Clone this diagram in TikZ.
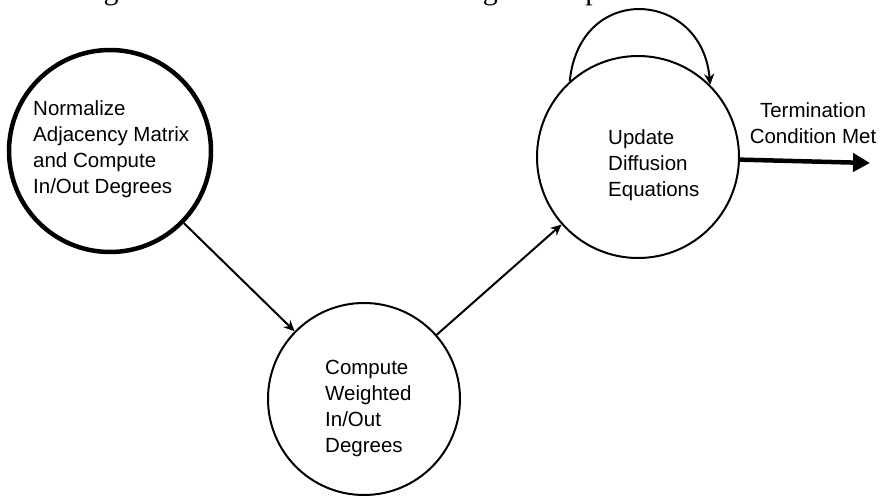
\documentclass[tikz,border=0pt]{standalone}
\usepackage{fontspec}
\setmainfont{Liberation Sans}
\newfontfamily\capfont{Liberation Serif}
\usetikzlibrary{arrows.meta}

\begin{document}
\begin{tikzpicture}[x=1pt, y=-1pt,
        state/.style={draw, circle, line width=2pt, inner sep=0pt},
        txt/.style={anchor=base west, align=left, inner sep=0pt, font=\fontsize{20.5}{26}\selectfont},
        arr/.style={line width=2pt, -{Stealth[length=11pt,width=10pt]}}]
        \useasboundingbox (0,0) rectangle (887,498);
        \begin{scope}
        \clip (0,0) rectangle (887,498);
        \node[anchor=base east, inner sep=0pt, font=\capfont\fontsize{30}{36}\selectfont] (cap) at (787,-1) {following state machine describes the algorithm presented above.};
        \end{scope}
        \node[state, line width=4.5pt, minimum size=202pt] (N) at (110,151) {};
        \node[state, minimum size=192pt] (W) at (364,399) {};
        \node[state, minimum size=202pt] (U) at (638,157) {};
        \node[txt] (NT) at (33,193) {Normalize\\Adjacency Matrix\\and Compute\\In/Out Degrees};
        \node[txt] (WT) at (325,452) {Compute\\Weighted\\In/Out\\Degrees};
        \node[txt] (UT) at (608,196) {Update\\Diffusion\\Equations};
        \coordinate (E) at (870,163);
        \node[anchor=base, align=center, inner sep=0pt, font=\fontsize{20.5}{26}\selectfont] (ET) at (813,143) {Termination\\Condition Met};
        \draw [arr] (N) -- (W);
        \draw [arr] (W) -- (U);
        \draw [arr] (U.132) .. controls +(10,-100) and +(-8,-95) .. (U.45);
        \draw [line width=4.5pt, -{Triangle[length=17pt,width=18pt]}] (U) -- (E);
\end{tikzpicture}
\end{document}
